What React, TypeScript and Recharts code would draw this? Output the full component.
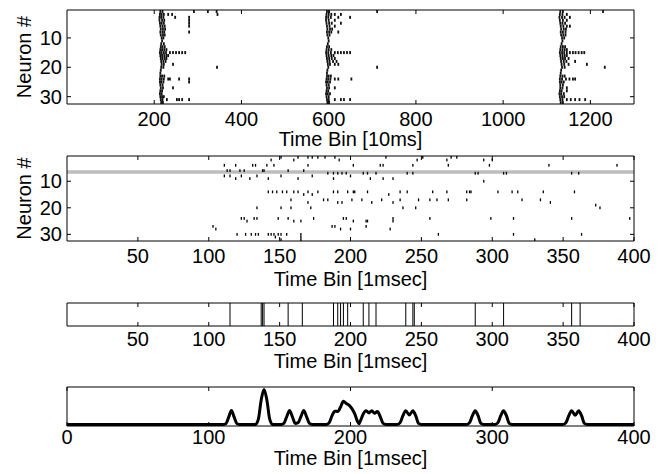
import React from 'react';
import { ScatterChart, Scatter, XAxis, YAxis, ReferenceLine, ComposedChart, Line } from 'recharts';

const FONT = '"Liberation Sans", Arial, Helvetica, sans-serif';
const FS = 20;

// ---------- data ----------
// Panel 1: spike times (10 ms bins) per neuron, index 0 = neuron 1
const coarseSpikes: number[][] = [
  [214, 219, 291, 323, 343, 596, 601, 711, 1131, 1137, 1229],
  [213, 217, 222, 232, 241, 345, 595, 600, 606, 614, 628, 1130, 1136, 1146],
  [212, 216, 221, 248, 280, 594, 599, 605, 622, 649, 1129, 1135, 1141, 1153],
  [212, 218, 223, 280, 594, 600, 614, 1130, 1137, 1146],
  [213, 217, 222, 280, 595, 601, 607, 628, 1131, 1136, 1142],
  [214, 219, 224, 280, 596, 602, 614, 1132, 1138, 1146, 1153],
  [215, 220, 225, 597, 603, 608, 1133, 1139, 1144],
  [214, 219, 223, 280, 596, 601, 606, 622, 1132, 1137, 1143],
  [215, 220, 224, 597, 602, 1133, 1138, 1143],
  [217, 221, 599, 1135, 1140],
  [218, 600, 1136],
  [216, 222, 598, 1134],
  [215, 219, 224, 596, 601, 1132, 1137, 1142],
  [214, 218, 223, 228, 595, 600, 606, 1131, 1136, 1141, 1146],
  [213, 217, 222, 227, 236, 243, 250, 257, 264, 271, 594, 599, 605, 614, 621, 628, 635, 642, 649, 1130, 1135, 1140, 1146, 1153, 1160, 1166, 1173, 1180, 1186],
  [214, 218, 223, 228, 232, 595, 600, 606, 611, 1131, 1136, 1141, 1146],
  [215, 219, 224, 228, 596, 601, 607, 614, 1132, 1137, 1142, 1150],
  [216, 221, 226, 597, 602, 610, 618, 1133, 1139, 1145, 1165],
  [217, 222, 243, 598, 603, 614, 622, 1134, 1140, 1150, 1192],
  [216, 221, 344, 599, 711, 1135, 1141, 1233],
  [215, 597, 1133],
  [214, 596, 1132],
  [214, 218, 223, 596, 600, 605, 1131, 1136, 1141],
  [213, 217, 222, 232, 236, 257, 280, 595, 599, 604, 614, 622, 652, 1130, 1135, 1144, 1152, 1160, 1165],
  [213, 216, 221, 280, 594, 598, 603, 1130, 1134, 1139],
  [214, 219, 595, 600, 1131, 1137],
  [215, 220, 243, 596, 601, 614, 1131, 1136, 1146],
  [214, 218, 595, 599, 1130, 1134, 1146],
  [213, 217, 594, 598, 603, 1129, 1133, 1139],
  [214, 218, 222, 595, 600, 1130, 1135, 1140],
  [215, 219, 229, 252, 257, 264, 280, 596, 600, 614, 628, 635, 649, 1131, 1136, 1146, 1155, 1165, 1175, 1188],
  [216, 220, 597, 601, 1132, 1137],
];
const coarseTicks = [200, 400, 600, 800, 1000, 1200];
const neuronTicks = [10, 20, 30];

// Panel 2: spike times (1 ms bins): [neuron, times]
const fineSpikes: Array<[number, number[]]> = [
  [1, [151, 163, 170, 173, 177, 182, 189, 225, 251, 271, 275]],
  [2, [144, 160, 192, 247, 268, 294, 300]],
  [4, [111, 119, 131, 133, 141, 146, 170, 202, 221, 223, 244, 269, 298, 340, 388]],
  [6, [113, 115, 122, 125, 138, 139, 156, 167]],
  [7, [184, 188, 191, 194, 197, 209, 212, 218, 240, 244, 288, 290, 308, 310, 356, 361]],
  [8, [111, 115, 123, 134, 151, 173, 200]],
  [9, [119, 129, 142, 163, 188, 214, 223, 230]],
  [10, [294]],
  [14, [142, 145, 148, 152, 155, 160, 163, 170, 177, 188, 191, 198, 202, 203, 212, 235, 240, 258, 268, 282, 284, 285, 304, 314, 318, 336, 358]],
  [15, [167, 173, 227]],
  [17, [158, 181, 184, 201, 208, 222, 235, 248, 256, 261, 269, 282, 321, 334]],
  [18, [170, 191, 194, 215, 230, 341]],
  [19, [373]],
  [20, [134, 151, 158, 172, 237, 246, 376]],
  [24, [123, 125, 132, 134, 149, 156, 174, 195, 197, 230, 256, 299, 315, 356, 397]],
  [25, [127, 160, 165, 202, 211, 212, 230]],
  [27, [103, 187, 189, 211]],
  [28, [105, 193, 200, 228]],
  [30, [120, 126, 130, 133, 135, 142, 144, 146, 149, 151, 155, 165, 262, 315, 363]],
  [31, [147, 165]],
  [32, [151, 165, 330]],
];
const highlightNeuron = 6.5;
const fineTicks = [50, 100, 150, 200, 250, 300, 350, 400];

// Panel 3: population event times (1 ms)
const eventTimes = [115, 137, 138, 139, 156, 166, 188, 191, 193, 195, 198, 209, 213, 218, 239, 244, 245, 288, 308, 356, 362];

// Panel 4: smoothed event trace
const traceTime = [
  0, 110, 112, 114, 116, 118, 120, 122,
  133, 135, 137, 139, 141, 143, 145,
  151, 153, 155, 157, 159, 161, 163, 165, 167, 169, 171, 173,
  183, 185, 187, 189, 191, 193, 195, 197, 199, 201, 203, 205, 206,
  207, 209, 211, 213, 215, 217, 219, 221, 223, 225,
  233, 235, 237, 239, 241.5, 244, 246, 248, 250,
  282, 284, 286, 288, 290, 292, 294,
  302, 304, 306, 308, 310, 312, 314,
  350, 352, 354, 356, 358.5, 361, 363, 365, 367, 400,
];
const traceValue = [
  0, 0, 0.02, 0.2, 0.4, 0.2, 0.02, 0,
  0, 0.15, 0.7, 1.0, 0.7, 0.15, 0,
  0, 0.03, 0.22, 0.4, 0.22, 0.03, 0.05, 0.22, 0.4, 0.22, 0.03, 0,
  0, 0.05, 0.25, 0.38, 0.37, 0.5, 0.66, 0.6, 0.55, 0.45, 0.3, 0.08, 0.02,
  0.1, 0.3, 0.39, 0.33, 0.39, 0.32, 0.37, 0.22, 0.03, 0,
  0, 0.05, 0.25, 0.39, 0.27, 0.39, 0.25, 0.03, 0,
  0, 0.05, 0.25, 0.39, 0.25, 0.03, 0,
  0, 0.05, 0.25, 0.39, 0.25, 0.03, 0,
  0, 0.05, 0.25, 0.39, 0.26, 0.39, 0.25, 0.03, 0, 0,
];
const traceTicks = [0, 100, 200, 300, 400];

// ---------- derived tables ----------
const coarsePoints = coarseSpikes.flatMap((times, i) => times.map((t) => ({ t, n: i + 1 })));
const finePoints = fineSpikes.flatMap(([n, times]) => times.map((t) => ({ t, n })));
const eventPoints = eventTimes.map((t) => ({ t, v: 0.5 }));
const traceData = traceTime.map((t, i) => ({ t, v: traceValue[i] }));

// ---------- helpers ----------
const NoTick = () => <g />;
const SpikeMark = (props: any) => {
  const { cx, cy } = props;
  if (cx == null || cy == null) return <g />;
  return <rect x={cx - 0.65} y={cy - 1.4} width={1.3} height={2.8} fill="#000" />;
};
const CoarseMark = (props: any) => {
  const { cx, cy } = props;
  if (cx == null || cy == null) return <g />;
  return <rect x={cx - 0.9} y={cy - 1.5} width={1.8} height={3} fill="#111" />;
};
const NoMark = () => <g />;

const tickStyle = { fill: '#000', fontSize: FS, fontFamily: FONT };
const labelStyle = (value: string, offset: number) => ({
  value,
  position: 'insideBottom' as const,
  offset,
  fill: '#000',
  fontSize: FS,
  fontFamily: FONT,
});
const yLabel = {
  value: 'Neuron #',
  angle: -90,
  position: 'insideLeft' as const,
  offset: 24,
  fill: '#000',
  fontSize: FS,
  fontFamily: FONT,
  style: { textAnchor: 'middle' },
};

const MARGIN_R = 30;
const YW = 67;

export default function App() {
  return (
    <div style={{ position: 'absolute', left: 0, top: 0, width: 665, height: 474, background: '#fff', fontFamily: FONT }}>
      {/* Panel 1 */}
      <div style={{ position: 'absolute', left: 0, top: 0 }}>
        <ScatterChart width={665} height={152} margin={{ top: 9, right: MARGIN_R, bottom: 0, left: 0 }}>
          <XAxis xAxisId="b" type="number" dataKey="t" domain={[0, 1300]} allowDataOverflow ticks={coarseTicks} interval={0}
            height={48} tickSize={-4} tickMargin={12} stroke="#000" tick={tickStyle} label={labelStyle('Time Bin [10ms]', 6)} />
          <XAxis xAxisId="t" orientation="top" type="number" dataKey="t" domain={[0, 1300]} allowDataOverflow ticks={coarseTicks} interval={0}
            height={1} tickSize={-4} stroke="#000" tick={NoTick} />
          <YAxis yAxisId="l" type="number" dataKey="n" domain={[0.5, 32.5]} allowDataOverflow reversed ticks={neuronTicks} interval={0}
            width={YW} tickSize={-4} tickMargin={9} stroke="#000" tick={tickStyle} label={yLabel} />
          <YAxis yAxisId="r" orientation="right" type="number" dataKey="n" domain={[0.5, 32.5]} allowDataOverflow reversed ticks={neuronTicks} interval={0}
            width={1} tickSize={-4} stroke="#000" tick={NoTick} />
          <Scatter xAxisId="b" yAxisId="l" data={coarsePoints} shape={CoarseMark} isAnimationActive={false} />
          <Scatter xAxisId="t" yAxisId="r" data={coarsePoints} shape={NoMark} isAnimationActive={false} />
        </ScatterChart>
      </div>

      {/* Panel 2 */}
      <div style={{ position: 'absolute', left: 0, top: 146 }}>
        <ScatterChart width={665} height={146} margin={{ top: 9, right: MARGIN_R, bottom: 0, left: 0 }}>
          <XAxis xAxisId="b" type="number" dataKey="t" domain={[0, 400]} allowDataOverflow ticks={fineTicks} interval={0}
            height={51} tickSize={-4} tickMargin={12} stroke="#000" tick={tickStyle} label={labelStyle('Time Bin [1msec]', 6)} />
          <XAxis xAxisId="t" orientation="top" type="number" dataKey="t" domain={[0, 400]} allowDataOverflow ticks={fineTicks} interval={0}
            height={1} tickSize={-4} stroke="#000" tick={NoTick} />
          <YAxis yAxisId="l" type="number" dataKey="n" domain={[0.5, 32.5]} allowDataOverflow reversed ticks={neuronTicks} interval={0}
            width={YW} tickSize={-4} tickMargin={9} stroke="#000" tick={tickStyle} label={yLabel} />
          <YAxis yAxisId="r" orientation="right" type="number" dataKey="n" domain={[0.5, 32.5]} allowDataOverflow reversed ticks={neuronTicks} interval={0}
            width={1} tickSize={-4} stroke="#000" tick={NoTick} />
          <ReferenceLine xAxisId="b" yAxisId="l" y={highlightNeuron} stroke="#bdbdbd" strokeWidth={3.5} />
          <Scatter xAxisId="b" yAxisId="l" data={finePoints} shape={SpikeMark} isAnimationActive={false} />
          <Scatter xAxisId="t" yAxisId="r" data={finePoints} shape={NoMark} isAnimationActive={false} />
        </ScatterChart>
      </div>

      {/* Panel 3 */}
      <div style={{ position: 'absolute', left: 0, top: 292 }}>
        <ComposedChart width={665} height={80} data={eventPoints} margin={{ top: 10, right: MARGIN_R, bottom: 0, left: 0 }}>
          <XAxis xAxisId="b" type="number" dataKey="t" domain={[0, 400]} allowDataOverflow ticks={fineTicks} interval={0}
            height={46} tickSize={-4} tickMargin={10} stroke="#000" tick={tickStyle} label={labelStyle('Time Bin [1msec]', 4)} />
          <XAxis xAxisId="t" orientation="top" type="number" dataKey="t" domain={[0, 400]} allowDataOverflow ticks={fineTicks} interval={0}
            height={1} tickSize={-4} stroke="#000" tick={NoTick} />
          <YAxis yAxisId="l" type="number" dataKey="v" domain={[0, 1]} allowDataOverflow ticks={[]} width={YW} tickLine={false} stroke="#000" tick={NoTick} />
          <YAxis yAxisId="r" orientation="right" type="number" dataKey="v" domain={[0, 1]} allowDataOverflow ticks={[]} width={1} tickLine={false} stroke="#000" tick={NoTick} />
          {eventTimes.map((t, i) => (
            <ReferenceLine key={i} xAxisId="b" yAxisId="l" x={t} stroke="#000" strokeWidth={1} />
          ))}
          <Scatter xAxisId="b" yAxisId="l" dataKey="v" shape={NoMark} isAnimationActive={false} />
          <Scatter xAxisId="t" yAxisId="r" dataKey="v" shape={NoMark} isAnimationActive={false} />
        </ComposedChart>
      </div>

      {/* Panel 4 */}
      <div style={{ position: 'absolute', left: 0, top: 377 }}>
        <ComposedChart width={665} height={97} data={traceData} margin={{ top: 9, right: MARGIN_R, bottom: 0, left: 0 }}>
          <XAxis xAxisId="b" type="number" dataKey="t" domain={[0, 400]} allowDataOverflow ticks={traceTicks} interval={0}
            height={48} tickSize={-4} tickMargin={8} stroke="#000" tick={tickStyle} label={labelStyle('Time Bin [1msec]', 9)} />
          <XAxis xAxisId="t" orientation="top" type="number" dataKey="t" domain={[0, 400]} allowDataOverflow ticks={traceTicks} interval={0}
            height={1} tickSize={-4} stroke="#000" tick={NoTick} />
          <YAxis yAxisId="l" type="number" domain={[-0.045, 1.07]} allowDataOverflow ticks={[]} width={YW} tickLine={false} stroke="#000" tick={NoTick} />
          <YAxis yAxisId="r" orientation="right" type="number" domain={[-0.045, 1.07]} allowDataOverflow ticks={[]} width={1} tickLine={false} stroke="#000" tick={NoTick} />
          <Line xAxisId="b" yAxisId="l" type="monotone" dataKey="v" stroke="#000" strokeWidth={3} dot={false} isAnimationActive={false} />
          <Scatter xAxisId="t" yAxisId="r" dataKey="v" shape={NoMark} isAnimationActive={false} />
        </ComposedChart>
      </div>
    </div>
  );
}
